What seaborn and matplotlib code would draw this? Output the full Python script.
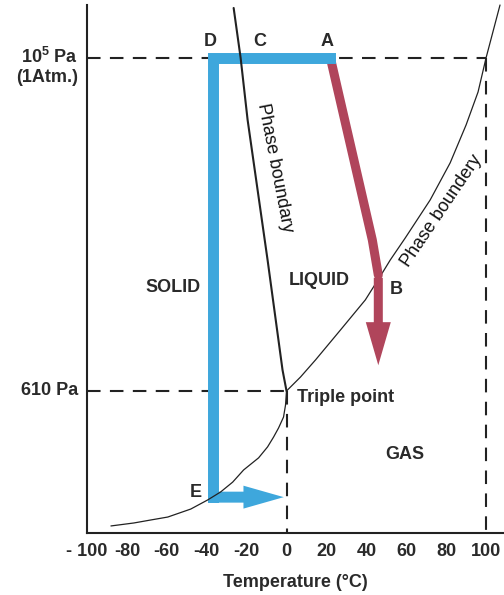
import matplotlib
matplotlib.use("Agg")
import matplotlib.pyplot as plt
from matplotlib.ticker import NullLocator
from matplotlib.patches import FancyArrowPatch
import seaborn as sns

# Axis ticks
temp_ticks = [-100, -80, -60, -40, -20, 0, 20, 40, 60, 80, 100]
temp_tick_labels = ["- 100", "-80", "-60", "-40", "-20", "0", "20", "40", "60", "80", "100"]

# Reference states (°C, Pa)
triple_T, triple_P = 0, 610
atm_P = 100000
boil_T = 100

# Solid / liquid boundary
fusion_T = [-26.5, -23, -19.5, -9.5, -2, 0]
fusion_P = [215000, 100000, 38700, 4540, 841, 610]

# Liquid / gas boundary
vapor_T = [0, 7, 14.5, 27, 39.5, 48, 52, 59.5, 72, 82, 90, 96, 100, 107]
vapor_P = [610, 755, 980, 1550, 2460, 3715, 4535, 6350, 11370, 20040, 35850, 59400,
           100000, 225000]

# Solid / gas boundary
subl_T = [-88, -76.5, -68, -59.5, -48, -39.5, -33, -27, -21.5, -14, -9.5, -6.5, -4, -1.5, -0.5, 0]
subl_P = [77.2, 80.8, 84.6, 88.5, 100, 115, 130, 151, 182, 219, 259, 301, 346, 409, 492, 610]

# Freeze-drying route A -> D -> E, then heating to 0 °C
blue_T = [22, -37, -37]
blue_P = [100000, 100000, 120]
blue_end_T = 0

# Conventional drying route A -> B, then on to low pressure
red_T = [22, 43, 46]
red_P = [100000, 6160, 3600]
red_end_P = 867

BLUE = "#3ea7dc"
RED = "#b0455b"
INK = "#222222"
TXT = "#2a2a2a"

sns.set_theme(style="white")
plt.rcParams["font.family"] = ["Liberation Sans", "DejaVu Sans"]
plt.rcParams["mathtext.default"] = "regular"

fig = plt.figure(figsize=(5.04, 5.95), dpi=100)
ax = fig.add_axes([87 / 504, 62 / 595, 417 / 504, 528 / 595])
ax.set_yscale("log")
ax.set_xlim(-100, 109)
ax.set_ylim(69.3, 225000)

# Dashed guide lines
dash = (0, (6.5, 4.5))
ax.plot([-100, boil_T], [atm_P, atm_P], ls=dash, lw=1.5, color=INK, zorder=1)
ax.plot([boil_T, boil_T], [atm_P, 69.3], ls=dash, lw=1.5, color=INK, zorder=1)
ax.plot([-100, triple_T], [triple_P, triple_P], ls=dash, lw=1.5, color=INK, zorder=1)
ax.plot([triple_T, triple_T], [triple_P, 69.3], ls=dash, lw=1.5, color=INK, zorder=1)

# Red route (drawn under the blue one)
sns.lineplot(x=red_T, y=red_P, ax=ax, sort=False, estimator=None, color=RED,
             lw=6.5, solid_capstyle="round", solid_joinstyle="round", zorder=3)
ax.add_patch(FancyArrowPatch(
    (red_T[-1], red_P[-1]), (red_T[-1], red_end_P),
    arrowstyle="simple,head_length=31,head_width=18,tail_width=6.5",
    mutation_scale=1, color=RED, lw=0, zorder=3))

# Vapour curve sits under the red route
sns.lineplot(x=vapor_T, y=vapor_P, ax=ax, sort=False, estimator=None,
             color=INK, lw=0.9, zorder=2)

# Blue route
sns.lineplot(x=blue_T, y=blue_P, ax=ax, sort=False, estimator=None, color=BLUE,
             lw=7.9, solid_capstyle="projecting", solid_joinstyle="miter", zorder=4)
ax.add_patch(FancyArrowPatch(
    (blue_T[-1], blue_P[-1]), (blue_end_T, blue_P[-1]),
    arrowstyle="simple,head_length=29,head_width=16.5,tail_width=7.9",
    mutation_scale=1, color=BLUE, lw=0, zorder=4))

# Fusion and sublimation curves on top
sns.lineplot(x=fusion_T, y=fusion_P, ax=ax, sort=False, estimator=None,
             color=INK, lw=1.5, zorder=5)
sns.lineplot(x=subl_T, y=subl_P, ax=ax, sort=False, estimator=None,
             color=INK, lw=0.9, zorder=5)
for ln in ax.lines:
    ln.set_clip_on(False)

# Axes styling
for side in ["top", "right"]:
    ax.spines[side].set_visible(False)
for side in ["left", "bottom"]:
    ax.spines[side].set_linewidth(1.5)
    ax.spines[side].set_color(INK)

ax.set_xticks(temp_ticks, temp_tick_labels, fontsize=13, fontweight="bold", color=TXT)
ax.tick_params(axis="x", direction="in", length=4, width=1.3, color=INK, pad=7)
ax.set_yticks([])
ax.yaxis.set_minor_locator(NullLocator())
ax.set_xlabel("Temperature (°C)", fontsize=13, fontweight="bold", color=TXT, labelpad=10)

bold = dict(fontsize=13, fontweight="bold", color=TXT)
ax.annotate("610 Pa", xy=(0, triple_P), xycoords=("axes fraction", "data"),
            xytext=(-6.5, 0), textcoords="offset points", ha="right", va="center", **bold)
ax.annotate("10$^5$ Pa\n(1Atm.)", xy=(0, atm_P), xycoords=("axes fraction", "data"),
            xytext=(-6.5, -6), textcoords="offset points", ha="right", va="center",
            multialignment="right", linespacing=1.15, **bold)

ax.text(-38, 128000, "D", ha="center", va="center", **bold)
ax.text(-13.5, 128000, "C", ha="center", va="center", **bold)
ax.text(20.5, 128000, "A", ha="center", va="center", **bold)
ax.text(-57, 2953, "SOLID", ha="center", va="center", **bold)
ax.text(16.5, 3288, "LIQUID", ha="center", va="center", **bold)
ax.text(55, 2864, "B", ha="center", va="center", **bold)
ax.text(59.5, 229, "GAS", ha="center", va="center", **bold)
ax.text(5.5, 548, "Triple point", ha="left", va="center", **bold)
ax.text(-45.5, 128, "E", ha="center", va="center", **bold)

ax.text(-6, 18550, "Phase boundary", rotation=-79, rotation_mode="anchor",
        ha="center", va="center", fontsize=13, color="#111111")
ax.text(77.5, 9600, "Phase boundery", rotation=56, rotation_mode="anchor",
        ha="center", va="center", fontsize=13, color="#111111")

fig.savefig("out.png", dpi=100)
